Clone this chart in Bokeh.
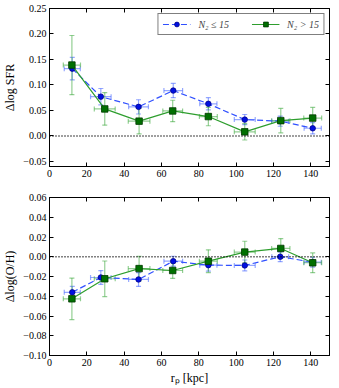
from bokeh.plotting import figure
from bokeh.layouts import column
from bokeh.models import (ColumnDataSource, Whisker, TeeHead, Span, FixedTicker,
                          LinearAxis, Legend, LegendItem, Range1d, CustomLabelingPolicy)
from bokeh.embed import file_html
from bokeh.resources import INLINE

# ---------------- data ----------------
r_low = [12.2, 27.5, 47.7, 66.3, 85.1, 104.6, 123.6, 141.0]
r_low_err = [4.3, 5.5, 5.3, 5.0, 4.6, 5.6, 4.5, 4.6]
r_high = [12.0, 29.6, 48.0, 66.0, 85.1, 104.6, 123.9, 141.0]
r_high_err = [4.6, 5.6, 5.8, 5.3, 4.8, 5.6, 4.9, 4.8]

sfr_low = [0.132, 0.077, 0.057, 0.089, 0.063, 0.032, 0.029, 0.015]
sfr_low_err = [0.022, 0.016, 0.014, 0.014, 0.012, 0.010, 0.010, 0.011]
sfr_high = [0.139, 0.053, 0.029, 0.049, 0.038, 0.008, 0.030, 0.035]
sfr_high_err = [0.058, 0.032, 0.025, 0.021, 0.018, 0.016, 0.024, 0.021]

oh_low = [-0.036, -0.021, -0.023, -0.0045, -0.0085, -0.0088, 0.0, -0.0055]
oh_low_err = [0.006, 0.007, 0.007, 0.005, 0.006, 0.0055, 0.005, 0.005]
oh_high = [-0.0426, -0.0223, -0.012, -0.0139, -0.0045, 0.0047, 0.0084, -0.0061]
oh_high_err = [0.021, 0.018, 0.0125, 0.008, 0.0115, 0.011, 0.010, 0.010]

x_ticks = [0, 20, 40, 60, 80, 100, 120, 140]
sfr_ticks = [-0.05, 0.0, 0.05, 0.10, 0.15, 0.20, 0.25]
sfr_tick_labels = ["\u22120.05", "0.00", "0.05", "0.10", "0.15", "0.20", "0.25"]
oh_ticks = [-0.10, -0.08, -0.06, -0.04, -0.02, 0.0, 0.02, 0.04, 0.06]
oh_tick_labels = ["\u22120.10", "\u22120.08", "\u22120.06", "\u22120.04", "\u22120.02",
                  "0.00", "0.02", "0.04", "0.06"]

label_low = "N\u2082 \u2264 15"
label_high = "N\u2082 > 15"

FONT = "Liberation Serif"
BLUE_MK = "#0010e0"
BLUE_EDGE = "#00008a"
BLUE_LINE = "#3050ff"
BLUE_ERR = "#4060ff"
GREEN_MK = "#007000"
GREEN_EDGE = "#003800"
GREEN_LINE = "#2e9e2e"
GREEN_ERR = "#3aa83a"

NO_LABELS = CustomLabelingPolicy(code="return new indices.constructor(indices.size, 0)")


def style_axis(ax, show_labels):
    ax.major_tick_in = 4
    ax.major_tick_out = 0
    ax.minor_tick_in = 0
    ax.minor_tick_out = 0
    ax.axis_line_color = "black"
    ax.major_tick_line_color = "black"
    ax.major_label_text_font = FONT
    ax.major_label_text_color = "black"
    if show_labels:
        ax.major_label_text_font_size = "10px"
        ax.major_label_standoff = 3
    else:
        ax.major_label_text_font_size = "1px"
        ax.major_label_standoff = 0
        ax.major_label_policy = NO_LABELS
        ax.axis_label_standoff = 0
    ax.axis_label_text_font = FONT
    ax.axis_label_text_font_style = "normal"
    ax.axis_label_text_font_size = "12px"
    ax.axis_label_text_color = "black"


def make_panel(height, yr, yticks, ylabels, ylabel, btop, bbottom, xlabel,
               y_low, e_low, y_high, e_high):
    p = figure(width=334, height=height, x_range=Range1d(0, 150),
               y_range=Range1d(*yr), output_backend="svg", toolbar_location=None,
               min_border_left=40, min_border_right=0, min_border_top=btop,
               min_border_bottom=bbottom)
    p.grid.visible = False
    p.outline_line_color = "black"
    p.outline_line_width = 1
    p.background_fill_color = "white"
    p.border_fill_color = "white"

    xa = p.xaxis[0]
    ya = p.yaxis[0]
    xa.ticker = FixedTicker(ticks=x_ticks)
    ya.ticker = FixedTicker(ticks=yticks)
    ya.major_label_overrides = {t: l for t, l in zip(yticks, ylabels)}
    style_axis(xa, True)
    style_axis(ya, True)
    ya.axis_label = ylabel
    ya.axis_label_standoff = 3
    if xlabel:
        xa.axis_label = xlabel
        xa.axis_label_standoff = 2

    ra = LinearAxis(ticker=FixedTicker(ticks=yticks))
    style_axis(ra, False)
    p.add_layout(ra, "right")
    ta = LinearAxis(ticker=FixedTicker(ticks=x_ticks))
    style_axis(ta, False)
    p.add_layout(ta, "above")

    p.add_layout(Span(location=0, dimension="width", line_color="black",
                      line_dash="1 2", line_width=1.5))

    rends = []
    for rx, rxe, yy, ye, lc, ec, mk, edge, marker, size, dash in [
        (r_low, r_low_err, y_low, e_low, BLUE_LINE, BLUE_ERR, BLUE_MK, BLUE_EDGE,
         "circle", 5.5, "6 3"),
        (r_high, r_high_err, y_high, e_high, GREEN_LINE, GREEN_ERR, GREEN_MK,
         GREEN_EDGE, "square", 6.5, "solid"),
    ]:
        src = ColumnDataSource(dict(
            x=rx, y=yy,
            xl=[a - b for a, b in zip(rx, rxe)], xu=[a + b for a, b in zip(rx, rxe)],
            yl=[a - b for a, b in zip(yy, ye)], yu=[a + b for a, b in zip(yy, ye)],
        ))
        for dim, base, lo, up in [("height", "x", "yl", "yu"), ("width", "y", "xl", "xu")]:
            w = Whisker(source=src, base=base, lower=lo, upper=up, dimension=dim,
                        line_color=ec, line_alpha=0.55, line_width=1.2,
                        upper_head=TeeHead(size=5, line_color=ec, line_alpha=0.55, line_width=1.2),
                        lower_head=TeeHead(size=5, line_color=ec, line_alpha=0.55, line_width=1.2))
            p.add_layout(w)
        ln = p.line("x", "y", source=src, line_color=lc, line_width=1.2, line_dash=dash)
        sc = p.scatter("x", "y", source=src, marker=marker, size=size,
                       fill_color=mk, line_color=edge, line_width=0.8)
        rends.append((ln, sc))
    return p, rends


top, rt = make_panel(187, (-0.06, 0.25), sfr_ticks, sfr_tick_labels, "\u0394log SFR",
                     8, 21, None, sfr_low, sfr_low_err, sfr_high, sfr_high_err)
bottom, rb = make_panel(200, (-0.10, 0.06), oh_ticks, oh_tick_labels, "\u0394log(O/H)",
                        10, 27, "r\u209a [kpc]", oh_low, oh_low_err, oh_high, oh_high_err)

legend = Legend(items=[LegendItem(label=label_low, renderers=list(rt[0])),
                       LegendItem(label=label_high, renderers=list(rt[1]))],
                orientation="horizontal", location="top_right")
legend.label_text_font = FONT
legend.label_text_font_style = "italic"
legend.label_text_font_size = "10px"
legend.border_line_color = "black"
legend.border_line_width = 1
legend.background_fill_alpha = 1
legend.padding = 4
legend.spacing = 22
legend.glyph_width = 28
legend.glyph_height = 12
legend.label_standoff = 8
legend.margin = 5
top.add_layout(legend)

layout = column(top, bottom, spacing=0)
open("out.html", "w").write(file_html(layout, INLINE))
